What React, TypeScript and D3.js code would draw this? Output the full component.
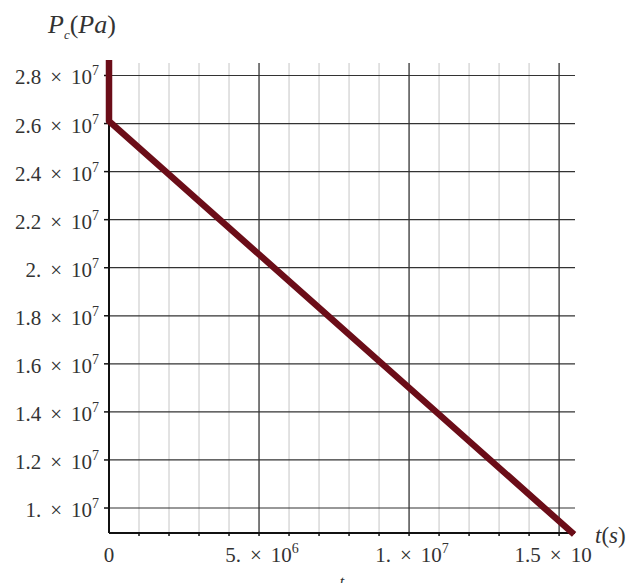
import React from 'react';
import * as d3 from 'd3';

// P_c (Pa) vs t (s)
const timeValues = [0, 0, 1.55e7];
const pressureValues = [2.9e7, 2.61e7, 0.89e7];

const yTicks = [1.0e7, 1.2e7, 1.4e7, 1.6e7, 1.8e7, 2.0e7, 2.2e7, 2.4e7, 2.6e7, 2.8e7];
const yTickLabels = ['1.', '1.2', '1.4', '1.6', '1.8', '2.', '2.2', '2.4', '2.6', '2.8'];
const xMajorTicks = [0, 5e6, 1e7, 1.5e7];
const xTickLabels = ['0', '5.', '1.', '1.5'];
const xTickExponents = ['', '6', '7', ''];
const xMinorTicks = d3.range(1, 16).map(d => d * 1e6);

const width = 639;
const height = 583;
const left = 109;
const right = 575;
const top = 63;
const bottom = 533;

const serif = '"Liberation Serif", "DejaVu Serif", serif';
const textColor = '#333';
const gap = 9;

// Maple-style "m × 10^e" label
const SciLabel = ({ x, y, mant, exp, anchor }: { x: number; y: number; mant: string; exp: string; anchor: string }) => (
  <text x={x} y={y} textAnchor={anchor} fontFamily={serif} fontSize={21} fill={textColor}>
    {mant}
    <tspan dx={gap}>{'\u00d7'}</tspan>
    <tspan dx={gap}>10</tspan>
    {exp && <tspan dy={-9} fontSize={14}>{exp}</tspan>}
  </text>
);

export default function App() {
  const x = d3.scaleLinear().domain([0, 1.553e7]).range([left, right]);
  const y = d3.scaleLinear().domain([0.896e7, 2.852e7]).range([bottom, top]);

  const points: [number, number][] = timeValues.map((t, i) => [t, pressureValues[i]]);
  const line = d3
    .line<[number, number]>()
    .x(d => x(d[0]))
    .y(d => y(d[1]));

  return (
    <svg width={width} height={height} style={{ position: 'absolute', left: 0, top: 0, background: '#fff' }}>
      <defs>
        <clipPath id="plotClip">
          <rect x={left - 10} y={top - 3} width={right - left + 20} height={bottom - top + 10} />
        </clipPath>
      </defs>

      {/* minor vertical grid */}
      {xMinorTicks.filter(d => d % 5e6 !== 0).map(d => (
        <line key={'mv' + d} x1={x(d)} x2={x(d)} y1={top} y2={bottom} stroke="#cfcfcf" strokeWidth={1.2} />
      ))}
      {/* major vertical grid */}
      {xMajorTicks.slice(1).map(d => (
        <line key={'Mv' + d} x1={x(d)} x2={x(d)} y1={top} y2={bottom} stroke="#222" strokeWidth={1.2} />
      ))}
      {/* horizontal grid */}
      {yTicks.map(d => (
        <line key={'h' + d} x1={left} x2={right} y1={y(d)} y2={y(d)} stroke="#333" strokeWidth={1.2} />
      ))}

      {/* axes */}
      <line x1={left} x2={left} y1={top} y2={bottom} stroke="#111" strokeWidth={2} />
      <line x1={left} x2={right} y1={bottom} y2={bottom} stroke="#111" strokeWidth={2} />
      {xMinorTicks.map(d => (
        <line key={'xt' + d} x1={x(d)} x2={x(d)} y1={bottom} y2={bottom + 3} stroke="#111" strokeWidth={1.5} />
      ))}
      {yTicks.map(d => (
        <line key={'yt' + d} x1={left - 5} x2={left} y1={y(d)} y2={y(d)} stroke="#111" strokeWidth={1.5} />
      ))}

      {/* y tick labels */}
      {yTicks.map((d, i) => (
        <SciLabel key={'yl' + d} x={left - 10} y={y(d) + 9} mant={yTickLabels[i]} exp="7" anchor="end" />
      ))}

      {/* x tick labels */}
      {xMajorTicks.map((d, i) =>
        i === 0 ? (
          <text key={'xl' + d} x={x(d)} y={bottom + 29} textAnchor="middle" fontFamily={serif} fontSize={21} fill={textColor}>
            {xTickLabels[i]}
          </text>
        ) : (
          <SciLabel
            key={'xl' + d}
            x={i === 3 ? x(d) - 6 : x(d) + 3}
            y={bottom + 29}
            mant={xTickLabels[i]}
            exp={xTickExponents[i]}
            anchor="middle"
          />
        )
      )}

      {/* data line */}
      <path
        d={line(points) || ''}
        fill="none"
        stroke="#6b0d18"
        strokeWidth={6.5}
        strokeLinejoin="round"
        clipPath="url(#plotClip)"
      />

      {/* axis titles */}
      <text x={48} y={33} fontFamily={serif} fontSize={26} fill={textColor} fontStyle="italic">
        P
        <tspan dy={6} fontSize={13}>c</tspan>
        <tspan dy={-6} fontStyle="normal">(</tspan>
        <tspan>Pa</tspan>
        <tspan fontStyle="normal">)</tspan>
      </text>
      <text x={595} y={543} fontFamily={serif} fontSize={23} fill={textColor}>
        <tspan fontStyle="italic">t</tspan>
        (<tspan fontStyle="italic">s</tspan>)
      </text>
      <text x={342} y={587} fontFamily={serif} fontSize={16} fill={textColor} fontStyle="italic" textAnchor="middle">
        t
      </text>
    </svg>
  );
}
